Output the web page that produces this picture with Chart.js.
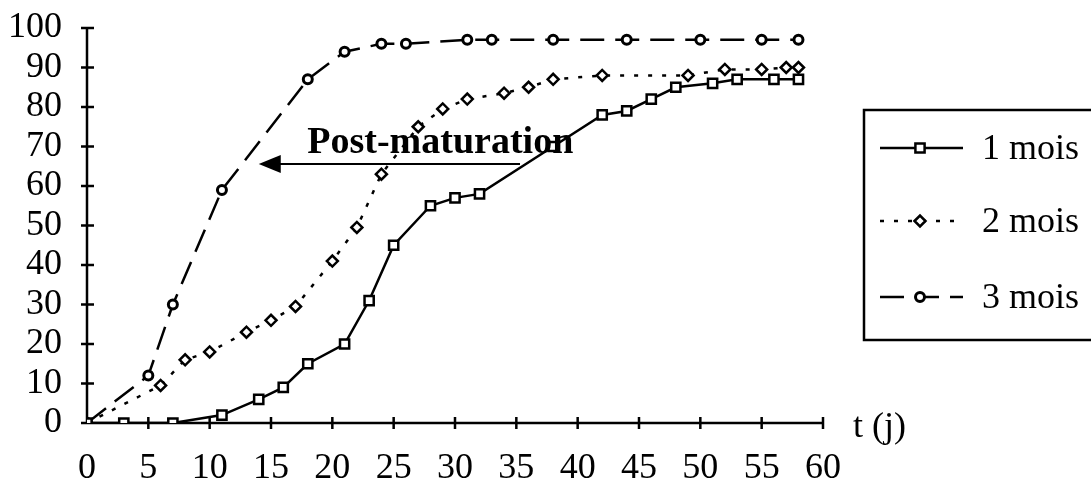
<!DOCTYPE html>
<html>
<head>
<meta charset="utf-8">
<script src="https://cdn.jsdelivr.net/npm/chart.js@4/dist/chart.umd.min.js"></script>
<style>
  body { margin: 0; background: #fff; }
  #wrap { width: 1091px; height: 484px; }
</style>
</head>
<body>
<div id="wrap"><canvas id="myChart" width="1091" height="484"></canvas></div>
<script>
// days (t, j) and germination (%) for each storage time
var days1 = [0, 3, 7, 11, 14, 16, 18, 21, 23, 25, 28, 30, 32, 38, 42, 44, 46, 48, 51, 53, 56, 58];
var mois1 = [0, 0, 0, 2, 6, 9, 15, 20, 31, 45, 55, 57, 58, 70, 78, 79, 82, 85, 86, 87, 87, 87];

var days2 = [0, 6, 8, 10, 13, 15, 17, 20, 22, 24, 27, 29, 31, 34, 36, 38, 42, 49, 52, 55, 57, 58];
var mois2 = [0, 9.5, 16, 18, 23, 26, 29.5, 41, 49.5, 63, 75, 79.5, 82, 83.5, 85, 87, 88, 88, 89.5, 89.5, 90, 90];

var days3 = [0, 5, 7, 11, 18, 21, 24, 26, 31, 33, 38, 44, 50, 55, 58];
var mois3 = [0, 12, 30, 59, 87, 94, 96, 96, 97, 97, 97, 97, 97, 97, 97];

var seriesNames = ['1 mois', '2 mois', '3 mois'];
var xLabel = 't (j)';
var annotText = 'Post-maturation';
// arrow from t=35.3 back to t=14 at 65.6 %
var arrowFrom = [35.3, 65.6];
var arrowTo = [14, 65.6];
var textAt = [28.8, 68.4];

function toPoints(xs, ys) {
    var pts = [];
    for (var i = 0; i < xs.length; i++) {
        pts.push({x: xs[i], y: ys[i]});
    }
    return pts;
}

Chart.defaults.font.family = "'Liberation Serif', 'Times New Roman', serif";
Chart.defaults.font.size = 36;
Chart.defaults.color = '#000';

// axes with ticks crossing the line, like the original
var axesPlugin = {
    id: 'crossAxes',
    beforeDatasetsDraw: function (chart) {
        var ctx = chart.ctx;
        var xs = chart.scales.x, ys = chart.scales.y;
        var x0 = xs.getPixelForValue(0), x1 = xs.getPixelForValue(60);
        var y0 = ys.getPixelForValue(0), y1 = ys.getPixelForValue(100);
        ctx.save();
        ctx.strokeStyle = '#000';
        ctx.lineWidth = 2.5;
        ctx.beginPath();
        ctx.moveTo(x0, y1); ctx.lineTo(x0, y0);
        ctx.moveTo(x0, y0); ctx.lineTo(x1, y0);
        for (var v = 0; v <= 100; v += 10) {
            var py = ys.getPixelForValue(v);
            ctx.moveTo(x0 - 6, py); ctx.lineTo(x0 + 7, py);
        }
        for (var t = 5; t <= 60; t += 5) {
            var px = xs.getPixelForValue(t);
            ctx.moveTo(px, y0 - 6); ctx.lineTo(px, y0 + 6);
        }
        ctx.stroke();

        ctx.font = "36px 'Liberation Serif', serif";
        ctx.fillStyle = '#000';
        ctx.textBaseline = 'middle';
        ctx.textAlign = 'left';
        ctx.fillText(xLabel, x1 + 30, y0 + 5);
        ctx.restore();
    },
    afterDatasetsDraw: function (chart) {
        var ctx = chart.ctx;
        var xs = chart.scales.x, ys = chart.scales.y;
        ctx.save();
        // annotation arrow
        var ax = xs.getPixelForValue(arrowFrom[0]), ay = ys.getPixelForValue(arrowFrom[1]);
        var bx = xs.getPixelForValue(arrowTo[0]), by = ys.getPixelForValue(arrowTo[1]);
        ctx.strokeStyle = '#000';
        ctx.fillStyle = '#000';
        ctx.lineWidth = 2;
        ctx.beginPath();
        ctx.moveTo(ax, ay); ctx.lineTo(bx + 20, by);
        ctx.stroke();
        ctx.beginPath();
        ctx.moveTo(bx, by);
        ctx.lineTo(bx + 22, by - 9);
        ctx.lineTo(bx + 22, by + 9);
        ctx.closePath();
        ctx.fill();
        ctx.font = "bold 38px 'Liberation Serif', serif";
        ctx.textAlign = 'center';
        ctx.textBaseline = 'alphabetic';
        ctx.fillText(annotText, xs.getPixelForValue(textAt[0]), ys.getPixelForValue(textAt[1]));

        // legend box
        ctx.lineWidth = 2.5;
        ctx.strokeRect(864, 110, 260, 230);
        var rows = [148, 221, 297];
        chart.data.datasets.forEach(function (ds, i) {
            var y = rows[i];
            ctx.save();
            ctx.strokeStyle = '#000';
            ctx.lineWidth = ds.borderWidth;
            ctx.setLineDash(ds.borderDash || []);
            ctx.beginPath();
            ctx.moveTo(880, y); ctx.lineTo(963, y);
            ctx.stroke();
            ctx.setLineDash([]);
            ctx.fillStyle = '#fff';
            ctx.lineWidth = ds.pointBorderWidth;
            Chart.helpers.drawPoint(ctx, {pointStyle: ds.pointStyle, radius: ds.pointRadius, borderWidth: ds.pointBorderWidth, rotation: 0}, 920, y);
            ctx.restore();
            ctx.font = "36px 'Liberation Serif', serif";
            ctx.textAlign = 'left';
            ctx.textBaseline = 'middle';
            ctx.fillStyle = '#000';
            ctx.fillText(seriesNames[i], 982, y + 2);
        });
        ctx.restore();
    }
};

var ctx = document.getElementById('myChart').getContext('2d');
var chart = new Chart(ctx, {
    type: 'line',
    data: {
        datasets: [{
            label: seriesNames[0],
            data: toPoints(days1, mois1),
            borderColor: '#000',
            borderWidth: 2.5,
            pointStyle: 'rect',
            pointRadius: 6.5,
            pointBorderWidth: 2.5,
            pointBackgroundColor: '#fff',
            pointBorderColor: '#000',
            tension: 0
        }, {
            label: seriesNames[1],
            data: toPoints(days2, mois2),
            borderColor: '#000',
            borderWidth: 2.5,
            borderDash: [4, 10],
            pointStyle: 'rectRot',
            pointRadius: 5.5,
            pointBorderWidth: 2.5,
            pointBackgroundColor: '#fff',
            pointBorderColor: '#000',
            tension: 0
        }, {
            label: seriesNames[2],
            data: toPoints(days3, mois3),
            borderColor: '#000',
            borderWidth: 2.5,
            borderDash: [24, 11],
            pointStyle: 'circle',
            pointRadius: 4.5,
            pointBorderWidth: 3,
            pointBackgroundColor: '#fff',
            pointBorderColor: '#000',
            tension: 0
        }]
    },
    options: {
        responsive: false,
        animation: false,
        devicePixelRatio: 1,
        layout: { padding: { top: 28, right: 268, left: 0, bottom: 0 } },
        plugins: { legend: { display: false }, tooltip: { enabled: false } },
        scales: {
            x: {
                type: 'linear',
                min: 0, max: 60,
                ticks: { stepSize: 5, padding: 24, maxRotation: 0, autoSkip: false },
                grid: { display: false, drawTicks: false, tickLength: 0 },
                border: { display: false },
                afterFit: function (scale) {
                    scale.height = 61;
                    scale.paddingLeft = 0; scale.paddingRight = 0;
                }
            },
            y: {
                min: 0, max: 100,
                ticks: { stepSize: 10, padding: 25, autoSkip: false },
                grid: { display: false, drawTicks: false, tickLength: 0 },
                border: { display: false },
                afterFit: function (scale) {
                    scale.width = 87;
                    scale.paddingTop = 0; scale.paddingBottom = 0;
                }
            }
        }
    },
    plugins: [axesPlugin]
});
</script>
</body>
</html>
